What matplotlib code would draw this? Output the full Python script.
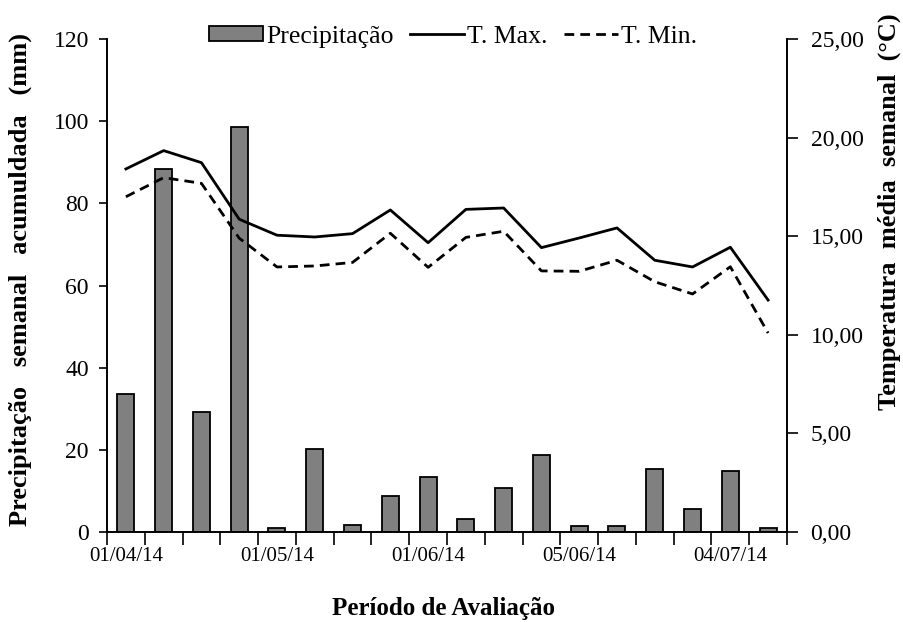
import numpy as np
import matplotlib
matplotlib.use("Agg")
import matplotlib.pyplot as plt
from matplotlib.ticker import FuncFormatter, FixedLocator

plt.rcParams['font.family'] = ['Liberation Serif', 'DejaVu Serif']

# Data
precip = [33.5, 88.3, 29.2, 98.6, 0.9, 20.1, 1.8, 8.8, 13.5, 3.1,
          10.6, 18.8, 1.4, 1.4, 15.3, 5.7, 14.9, 0.9]
tmax = [18.41, 19.34, 18.73, 15.86, 15.05, 14.96, 15.13, 16.33, 14.67, 16.36,
        16.43, 14.42, 14.91, 15.42, 13.78, 13.44, 14.44, 11.76]
tmin = [17.00, 17.97, 17.68, 14.90, 13.44, 13.49, 13.67, 15.15, 13.42, 14.94,
        15.25, 13.24, 13.22, 13.78, 12.69, 12.07, 13.45, 10.09]
xlabels = ['01/04/14', '', '', '', '01/05/14', '', '', '', '01/06/14', '', '', '',
           '05/06/14', '', '', '', '04/07/14', '']

n = len(precip)
x = np.arange(n)

fig = plt.figure(figsize=(9.04, 6.22), dpi=100)
ax = fig.add_axes([107/904, 1-532/622, 680/904, 493/622])
ax2 = ax.twinx()

bars = ax.bar(x, precip, width=0.45, color='#808080', edgecolor='black',
              linewidth=1.3, label='Precipitação', zorder=2)
l1, = ax2.plot(x, tmax, color='black', lw=2.0, label='T. Max.')
l2, = ax2.plot(x, tmin, color='black', lw=2.0, ls=(0, (3.5, 2.2)), label='T. Min.')

ax.set_xlim(-0.5, n - 0.5)
ax.set_ylim(0, 120)
ax2.set_ylim(0, 25)
ax.set_yticks(np.arange(0, 121, 20))
ax2.set_yticks(np.arange(0, 26, 5))
ax2.yaxis.set_major_formatter(FuncFormatter(lambda v, p: f"{v:.2f}".replace('.', ',')))

# x ticks at category boundaries, labels at centers
ax.xaxis.set_major_locator(FixedLocator(np.arange(-0.5, n, 1.0)))
ax.xaxis.set_major_formatter(FuncFormatter(lambda v, p: ''))
ax.xaxis.set_minor_locator(FixedLocator(x))
ax.set_xticklabels(xlabels, minor=True)
ax.tick_params(axis='x', which='major', length=9, width=1.2, direction='out')
ax.tick_params(axis='x', which='minor', length=0, pad=11, labelsize=15)
ax.tick_params(axis='y', length=6, width=1.2, direction='out', labelsize=17, pad=7)
ax2.tick_params(axis='y', length=8, width=1.2, direction='out', labelsize=17, pad=9)

for a in (ax, ax2):
    a.spines['top'].set_visible(False)
    for s in ('left', 'right', 'bottom'):
        a.spines[s].set_linewidth(1.2)

fig.text(444/904, 1-608/622, 'Período de Avaliação', ha='center', va='center',
         fontsize=18, fontweight='bold')
fig.text(20/904, 1-280/622, 'Precipitação   semanal   acumuldada   (mm)', rotation=90,
         ha='center', va='center', fontsize=19, fontweight='bold')
fig.text(889/904, 1-212/622, 'Temperatura  média  semanal  (°C)', rotation=90,
         ha='center', va='center', fontsize=19, fontweight='bold')

leg = ax2.legend([bars, l1, l2], ['Precipitação', 'T. Max.', 'T. Min.'],
                 loc='center', bbox_to_anchor=(0.509, 1.005), ncol=3, frameon=False,
                 fontsize=18.5, handlelength=2.1, handleheight=0.55,
                 handletextpad=0.12, columnspacing=0.65, borderaxespad=0)

fig.savefig('out.png', dpi=100)
